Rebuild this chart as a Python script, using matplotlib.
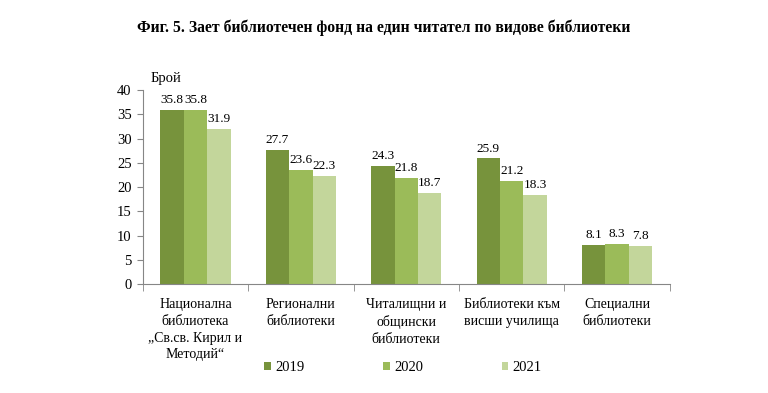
import numpy as np
import matplotlib.pyplot as plt

plt.rcParams['font.family'] = ['Liberation Serif', 'DejaVu Serif']

categories = ["Национална\nбиблиотека\n„Св.св. Кирил и\nМетодий“",
              "Регионални\nбиблиотеки",
              "Читалищни и\nобщински\nбиблиотеки",
              "Библиотеки към\nвисши училища",
              "Специални\nбиблиотеки"]
years = ["2019", "2020", "2021"]
v2019 = [35.8, 27.7, 24.3, 25.9, 8.1]
v2020 = [35.8, 23.6, 21.8, 21.2, 8.3]
v2021 = [31.9, 22.3, 18.7, 18.3, 7.8]
colors = ["#77933C", "#9BBB59", "#C3D69B"]

fig = plt.figure(figsize=(7.68, 3.93), dpi=100)
ax = fig.add_axes([0.186, 0.277, 0.686, 0.494])

x = np.arange(len(categories))
w = 0.222
for i, (vals, c, lab) in enumerate(zip([v2019, v2020, v2021], colors, years)):
    bars = ax.bar(x + (i - 1) * w, vals, w, color=c, label=lab)
    for b, v in zip(bars, vals):
        ax.text(b.get_x() + b.get_width() / 2, v + 0.8, f"{v:.1f}",
                ha='center', va='bottom', fontsize=9.5)

ax.set_xlim(-0.5, len(categories) - 0.5)
ax.set_ylim(0, 40)
ax.set_yticks(range(0, 41, 5))
ax.tick_params(axis='y', labelsize=10.5, length=4, color='#868686', pad=4)
ax.set_xticks(x)
ax.set_xticklabels(categories, fontsize=10, va='top', linespacing=1.38)
ax.set_xticks(np.arange(-0.5, len(categories), 1), minor=True)
ax.tick_params(axis='x', which='major', length=0, pad=10)
ax.tick_params(axis='x', which='minor', length=5, color='#868686')
for s in ['top', 'right']:
    ax.spines[s].set_visible(False)
ax.spines['left'].set_color('#868686')
ax.spines['bottom'].set_color('#868686')

ax.text(0.014, 1.025, "Брой", transform=ax.transAxes, fontsize=10.5, va='bottom')
fig.text(0.5, 0.93, "Фиг. 5. Зает библиотечен фонд на един читател по видове библиотеки",
         ha='center', va='center', fontsize=11.3, fontweight='bold')

ax.legend(loc='center', bbox_to_anchor=(0.494, -0.43), ncol=3, frameon=False,
          fontsize=10.5, handlelength=0.45, handleheight=0.45, columnspacing=5.4,
          handletextpad=0.3)

fig.savefig("out.png", dpi=100)
